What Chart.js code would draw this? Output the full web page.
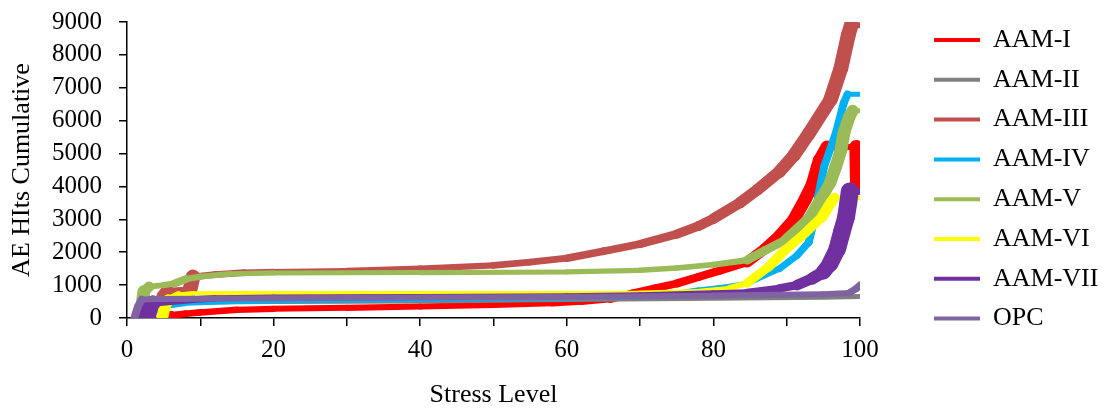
<!DOCTYPE html>
<html>
<head>
<meta charset="utf-8">
<script src="https://cdn.jsdelivr.net/npm/chart.js@4.4.1/dist/chart.umd.min.js"></script>
<style>
html,body{margin:0;padding:0;background:#fff;}
#wrap{width:1107px;height:408px;position:relative;}
</style>
</head>
<body>
<div id="wrap"><canvas id="c"></canvas></div>
<script>
// ---- Data ----
const seriesNames = ['AAM-I', 'AAM-II', 'AAM-III', 'AAM-IV', 'AAM-V', 'AAM-VI', 'AAM-VII', 'OPC'];

const stressAAM_I  = [5.2, 6, 8, 10, 15, 20, 30, 40, 50, 58, 62, 66, 69, 72, 75, 78, 81, 84.6, 87, 89, 91, 92.5, 93.6, 94.5, 95.5, 99.5, 99.6];
const hitsAAM_I    = [0, 80, 130, 170, 250, 280, 310, 350, 400, 450, 500, 580, 750, 900, 1050, 1250, 1450, 1700, 2100, 2500, 3000, 3600, 4100, 4800, 5200, 5200, 3950];

const stressAAM_II = [2, 3, 5, 10, 20, 40, 60, 80, 95, 100];
const hitsAAM_II   = [400, 470, 480, 490, 500, 520, 560, 600, 630, 650];

const stressAAM_III = [4.9, 5.5, 8.6, 9, 12, 16, 20, 30, 40, 50, 55, 60, 65, 70, 75, 78, 80, 83.6, 86, 89, 91, 93, 96, 97.4, 98.4, 98.8, 100];
const hitsAAM_III   = [650, 820, 860, 1250, 1320, 1380, 1400, 1430, 1500, 1600, 1700, 1820, 2030, 2250, 2550, 2800, 3020, 3500, 3900, 4450, 4950, 5600, 6650, 7600, 8600, 8900, 8900];

const stressAAM_IV = [3, 5, 8, 15, 20, 40, 60, 70, 75, 78, 82, 84.6, 87, 89, 91.4, 93, 93.8, 94.3, 95.1, 96.7, 97.8, 98.3, 100];
const hitsAAM_IV   = [100, 350, 450, 500, 520, 560, 600, 650, 750, 850, 950, 1050, 1300, 1500, 1900, 2300, 3000, 3700, 4600, 5620, 6550, 6800, 6800];

const stressAAM_V = [2, 2.3, 3, 5, 6.5, 8, 10, 14, 20, 40, 60, 70, 75, 80, 84.6, 87, 89.8, 93.2, 95.9, 96.7, 97.4, 97.8, 98.5, 99, 100];
const hitsAAM_V   = [300, 800, 950, 1000, 1050, 1180, 1260, 1340, 1370, 1380, 1400, 1450, 1520, 1620, 1760, 2050, 2370, 3070, 4100, 4600, 5100, 5620, 6100, 6300, 6300];

const stressAAM_VI = [4.8, 5.1, 5.6, 7, 9, 15, 40, 60, 70, 78, 82, 84.6, 87.5, 89.8, 92.5, 94.8, 96, 96.5, 100];
const hitsAAM_VI   = [0, 300, 550, 700, 750, 760, 760, 760, 770, 820, 900, 1060, 1550, 2070, 2580, 3070, 3500, 3650, 3650];

const stressAAM_VII = [2.7, 3, 3.5, 6, 9, 12, 20, 40, 60, 70, 80, 84.6, 89, 91.4, 93.5, 95, 95.9, 96.9, 97.5, 98.1, 98.4, 98.6, 100];
const hitsAAM_VII   = [0, 300, 450, 500, 560, 600, 620, 640, 660, 690, 750, 780, 900, 1000, 1200, 1400, 1650, 2100, 2600, 3070, 3500, 3850, 3850];

const stressOPC = [1, 1.5, 2, 4, 20, 40, 60, 80, 95, 98.5, 99.5, 100];
const hitsOPC   = [0, 350, 560, 580, 600, 620, 640, 680, 720, 760, 900, 1000];

const xTicks = [0, 10, 20, 30, 40, 50, 60, 70, 80, 90, 100];
const xLabelled = [0, 20, 40, 60, 80, 100];
const yTicks = [0, 1000, 2000, 3000, 4000, 5000, 6000, 7000, 8000, 9000];

// ---- Styles ----
const colors = ['#FF0000', '#808080', '#C0504D', '#00B0F0', '#9BBB59', '#FFFF00', '#7030A0', '#8064A2'];
// band thickness: [flat, steep]
const bandWidths = [[6, 14], [5, 5], [6, 15], [5, 8], [5, 13], [4, 12], [6, 18], [6, 8]];
const stressSets = [stressAAM_I, stressAAM_II, stressAAM_III, stressAAM_IV, stressAAM_V, stressAAM_VI, stressAAM_VII, stressOPC];
const hitSets = [hitsAAM_I, hitsAAM_II, hitsAAM_III, hitsAAM_IV, hitsAAM_V, hitsAAM_VI, hitsAAM_VII, hitsOPC];

function bandWidth(i) {
  const [flat, steep] = bandWidths[i];
  return (ctx) => {
    const dx = ctx.p1.x - ctx.p0.x, dy = ctx.p1.y - ctx.p0.y;
    const len = Math.hypot(dx, dy);
    const s = len > 0 ? Math.abs(dy) / len : 0;
    return flat + (steep - flat) * s;
  };
}

const datasets = seriesNames.map((name, i) => ({
  label: name,
  data: stressSets[i].map((x, k) => ({x: x, y: hitSets[i][k]})),
  showLine: true,
  borderColor: colors[i],
  backgroundColor: colors[i],
  borderWidth: bandWidths[i][0],
  segment: { borderWidth: bandWidth(i) },
  borderCapStyle: 'round',
  borderJoinStyle: 'round',
  pointRadius: 0,
  pointHoverRadius: 0,
  tension: 0,
  order: seriesNames.length - i
}));

const SERIF = "'Liberation Serif', 'Times New Roman', serif";
Chart.defaults.font.family = SERIF;
Chart.defaults.color = '#000';

const LEGEND_W = 247;
const legendPlacer = {
  id: 'legendPlacer',
  beforeLayout(chart) {
    const lg = chart.legend;
    if (lg && !lg._patched) {
      lg._patched = true;
      const origFit = lg.fit;
      lg.fit = function () { origFit.call(this); this.width = LEGEND_W; };
    }
  },
  afterLayout(chart) {
    const lg = chart.legend;
    if (!lg) return;
    const p = lg.options.labels.padding;
    lg.left = 934 - p;
    lg.top = 27 - p;
  }
};

new Chart(document.getElementById('c'), {
  type: 'scatter',
  data: { datasets },
  plugins: [legendPlacer],
  options: {
    responsive: true,
    maintainAspectRatio: false,
    animation: false,
    layout: { padding: { left: 3, right: 0, top: 22, bottom: 0 } },
    plugins: {
      tooltip: { enabled: false },
      legend: {
        position: 'right',
        align: 'start',
        labels: {
          boxWidth: 46,
          boxHeight: 4,
          padding: 13.8,
          color: '#000',
          font: { size: 26, family: SERIF },
          sort: (a, b) => a.datasetIndex - b.datasetIndex,
          generateLabels(chart) {
            return Chart.defaults.plugins.legend.labels.generateLabels(chart).map(l => Object.assign(l, { lineWidth: 0 }));
          }
        }
      }
    },
    scales: {
      x: {
        type: 'linear',
        min: 0, max: 100,
        afterBuildTicks(scale) { scale.ticks = xTicks.map(v => ({ value: v })); },
        afterFit(scale) { scale.height = 90; scale.paddingLeft = 0; },
        ticks: {
          autoSkip: false, maxRotation: 0, padding: 9,
          font: { size: 25, family: SERIF }, color: '#000',
          callback: (v) => xLabelled.includes(v) ? String(v) : ''
        },
        grid: { display: true, drawOnChartArea: false, drawTicks: true, tickLength: 8, color: '#000', lineWidth: 1.5 },
        border: { display: true, color: '#000', width: 1.5 },
        title: { display: true, text: 'Stress Level', color: '#000', font: { size: 26, family: SERIF, lineHeight: 1 }, padding: { top: 8, bottom: 0 } }
      },
      y: {
        type: 'linear',
        min: 0, max: 9000,
        afterBuildTicks(scale) { scale.ticks = yTicks.map(v => ({ value: v })); },
        afterFit(scale) { scale.width = 124; scale.paddingTop = 0; scale.paddingBottom = 0; },
        ticks: {
          autoSkip: false, padding: 17,
          font: { size: 25, family: SERIF }, color: '#000',
          callback: (v) => String(v)
        },
        grid: { display: true, drawOnChartArea: false, drawTicks: true, tickLength: 8, color: '#000', lineWidth: 1.5 },
        border: { display: true, color: '#000', width: 1.5 },
        title: { display: true, text: 'AE HIts Cumulative', color: '#000', font: { size: 26, family: SERIF, lineHeight: 1 }, padding: { top: 6, bottom: 0 } }
      }
    }
  }
});
</script>
</body>
</html>
